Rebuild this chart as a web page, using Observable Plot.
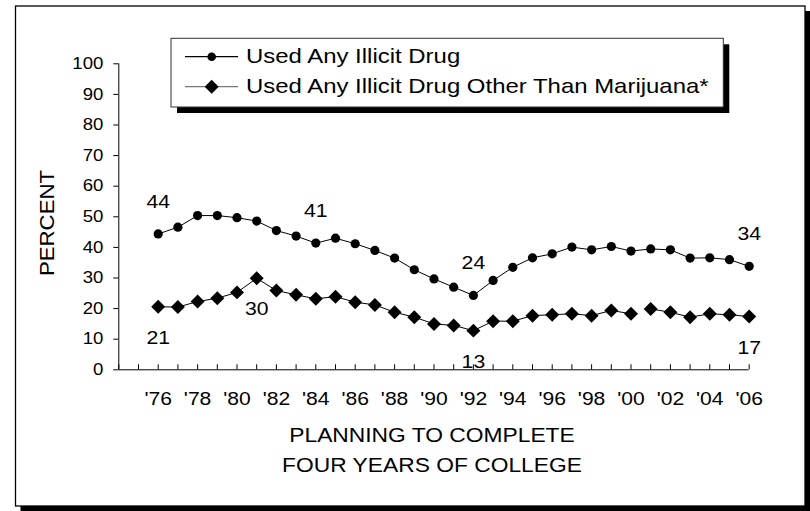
<!DOCTYPE html>
<html>
<head>
<meta charset="utf-8">
<script src="https://cdn.jsdelivr.net/npm/d3@7"></script>
<script src="https://cdn.jsdelivr.net/npm/@observablehq/plot@0.6"></script>
<style>
html, body { margin: 0; padding: 0; background: #fff; }
#chart svg text { font-family: "Liberation Sans", Arial, sans-serif; }
</style>
</head>
<body>
<div id="chart"></div>
<script>
// ---- data ----
const years = [1976,1977,1978,1979,1980,1981,1982,1983,1984,1985,1986,1987,1988,1989,1990,
               1991,1992,1993,1994,1995,1996,1997,1998,1999,2000,2001,2002,2003,2004,2005,2006];
const anyDrug = [44.4,46.6,50.4,50.4,49.7,48.6,45.5,43.7,41.4,43.0,41.2,39.0,36.5,32.7,29.7,
                 27.0,24.3,29.2,33.5,36.6,37.9,40.1,39.2,40.3,38.8,39.5,39.2,36.5,36.6,36.0,33.8];
const otherDrug = [20.6,20.5,22.3,23.4,25.3,29.9,25.9,24.5,23.2,23.9,22.1,21.2,18.8,17.2,15.0,
                   14.5,12.8,15.9,15.9,17.7,18.0,18.3,17.7,19.4,18.3,19.9,18.8,17.2,18.3,18.0,17.4];
const seriesNames = ["Used Any Illicit Drug", "Used Any Illicit Drug Other Than Marijuana*"];
const labelYearsAny = [1976, 1984, 1992, 2006];
const labelYearsOther = [1976, 1981, 1992, 2006];
const otherBreakAfter = 2000; // line not connected between '00 and '01
const yTicks = [0,10,20,30,40,50,60,70,80,90,100];
const xTickMarks = [1974,1975,1976,1977,1978,1979,1980,1981,1982,1983,1984,1985,1986,1987,1988,1989,1990,
                    1991,1992,1993,1994,1995,1996,1997,1998,1999,2000,2001,2002,2003,2004,2005,2006];
const xTickLabels = [1976,1978,1980,1982,1984,1986,1988,1990,1992,1994,1996,1998,2000,2002,2004,2006];
const xDomain = [1974, 2006];
const yTitle = "PERCENT";
const xTitle = ["PLANNING TO COMPLETE", "FOUR YEARS OF COLLEGE"];

// ---- tables ----
const dataAny = years.map((y, i) => ({year: y, value: anyDrug[i]}));
const dataOther = years.map((y, i) => ({year: y, value: otherDrug[i], seg: y <= otherBreakAfter ? 0 : 1}));
const fmt = d3.format(".0f");

const chart = Plot.plot({
  width: 810,
  height: 511,
  marginLeft: 118.3,
  marginRight: 61.3,
  marginTop: 63.3,
  marginBottom: 141.7,
  x: {domain: xDomain},
  y: {domain: [0, 100]},
  style: {fontFamily: '"Liberation Sans", Arial, sans-serif', color: "#000", background: "#fff"},
  marks: [
    Plot.axisY({ticks: yTicks, tickSize: 5, tickPadding: 10.5, fontSize: 16.3, label: null, tickFormat: d => String(d)}),
    Plot.axisX({ticks: xTickMarks, tickSize: -5, tickFormat: () => "", label: null}),
    Plot.axisX({ticks: xTickLabels, tickSize: 0, tickPadding: 22, fontSize: 18.5, label: null,
                tickFormat: d => "'" + String(d).slice(2)}),
    Plot.ruleX([xDomain[0]], {y1: 0, y2: 100, stroke: "#000"}),
    Plot.ruleY([0], {x1: xDomain[0], x2: xDomain[1], stroke: "#000"}),
    Plot.line(dataAny, {x: "year", y: "value", stroke: "#000", strokeWidth: 1}),
    Plot.line(dataOther, {x: "year", y: "value", z: "seg", stroke: "#000", strokeWidth: 1}),
    Plot.dot(dataAny, {x: "year", y: "value", r: 4.6, fill: "#000", symbol: "circle"}),
    Plot.dot(dataOther, {x: "year", y: "value", r: 6.3, fill: "#000", symbol: "diamond2"}),
    Plot.text(dataAny.filter(d => labelYearsAny.includes(d.year)),
              {x: "year", y: "value", text: d => fmt(d.value), dy: -32, fontSize: 18.6, fill: "#000"}),
    Plot.text(dataOther.filter(d => labelYearsOther.includes(d.year)),
              {x: "year", y: "value", text: d => fmt(d.value), dy: 31, fontSize: 18.6, fill: "#000"})
  ]
});

document.getElementById("chart").appendChild(chart);
const svg = d3.select(chart);

// outer frame with shadow (behind everything)
const frame = svg.insert("g", ":first-child");
frame.append("rect").attr("x", 20.5).attr("y", 11).attr("width", 789.5).attr("height", 500).attr("fill", "#000");
frame.append("rect").attr("x", 15.5).attr("y", 6).attr("width", 789.5).attr("height", 500)
  .attr("fill", "#fff").attr("stroke", "#000").attr("stroke-width", 1.3);

// axis titles
svg.append("text").attr("transform", "translate(47.5,223) rotate(-90)").attr("text-anchor", "middle")
  .attr("dy", "0.35em").attr("font-size", 19.5).attr("fill", "#000").text(yTitle);
xTitle.forEach((t, i) => {
  svg.append("text").attr("x", 432).attr("y", 434.5 + i * 30.7).attr("dy", "0.35em")
    .attr("text-anchor", "middle").attr("font-size", 20).attr("fill", "#000").text(t);
});

// legend
const lg = svg.append("g");
lg.append("rect").attr("x", 177).attr("y", 44.3).attr("width", 552.3).attr("height", 68.7).attr("fill", "#000");
lg.append("rect").attr("x", 171).attr("y", 38.3).attr("width", 552.3).attr("height", 68.7)
  .attr("fill", "#fff").attr("stroke", "#333").attr("stroke-width", 1);
const rowY = [56.7, 86.7];
const lineColors = ["#000", "#777"];
seriesNames.forEach((name, i) => {
  const y = rowY[i];
  lg.append("line").attr("x1", 185).attr("x2", 238).attr("y1", y).attr("y2", y)
    .attr("stroke", lineColors[i]).attr("stroke-width", 1.2);
  const sym = i === 0 ? d3.symbol(d3.symbolCircle, Math.PI * 4.3 * 4.3)
                      : d3.symbol(d3.symbolDiamond2, 125);
  lg.append("path").attr("d", sym()).attr("transform", `translate(211.7,${y})`).attr("fill", "#000");
  lg.append("text").attr("x", 246).attr("y", y - 1.5).attr("dy", "0.35em").attr("font-size", 21)
    .attr("text-anchor", "start").attr("fill", "#000").text(name);
});

// widen glyphs horizontally to match the reference's wider lettering
svg.selectAll("text").each(function() {
  const L = this.getComputedTextLength();
  if (L > 0) {
    this.setAttribute("textLength", (L * 1.14).toFixed(2));
    this.setAttribute("lengthAdjust", "spacingAndGlyphs");
  }
});
</script>
</body>
</html>
